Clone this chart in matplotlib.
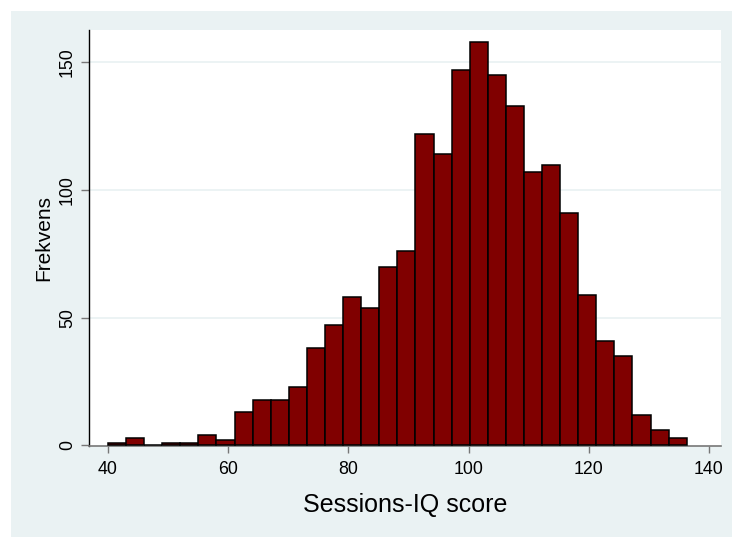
import matplotlib.pyplot as plt
from matplotlib.patches import Rectangle
import numpy as np

plt.rcParams['font.family'] = ['Liberation Sans', 'DejaVu Sans']

# Histogram: 32 bins between min and max score
score_min = 40.0
score_max = 136.3
counts = [1, 3, 0, 1, 1, 4, 2, 13, 18, 18, 23, 38, 47, 58, 54, 70,
          76, 122, 114, 147, 158, 145, 133, 107, 110, 91, 59, 41, 35, 12, 6, 3]
x_ticks = [40, 60, 80, 100, 120, 140]
y_ticks = [0, 50, 100, 150]

edges = np.linspace(score_min, score_max, len(counts) + 1)
width = edges[1] - edges[0]

fig = plt.figure(figsize=(7.32, 5.37), dpi=100)
fig.patch.set_facecolor('white')
# Stata-like graph region
fig.patches.append(Rectangle((11 / 732, 0), 1 - 11 / 732, 1 - 11 / 537,
                             transform=fig.transFigure, facecolor='#eaf2f3',
                             edgecolor='none', zorder=-10))

ax = fig.add_axes([89 / 732, 1 - 446 / 537, (721 - 89) / 732, (446 - 30) / 537])
ax.set_facecolor('white')

ax.bar(edges[:-1], counts, width=width, align='edge', color='#800000',
       edgecolor='black', linewidth=1.1, zorder=3)

ax.set_xlim(36.85, 142.0)
ax.set_ylim(-0.2, 162.7)
ax.set_xticks(x_ticks)
ax.set_yticks(y_ticks)
ax.set_yticklabels([str(v) for v in y_ticks], rotation=90, va='center')

for v in y_ticks[1:]:
    ax.axhline(v, color='#eaf2f3', linewidth=1.3, zorder=1)

ax.spines['top'].set_visible(False)
ax.spines['right'].set_visible(False)
ax.spines['left'].set_color('black')
ax.spines['bottom'].set_color('#777777')
ax.spines['left'].set_linewidth(1.0)
ax.spines['bottom'].set_linewidth(1.2)

ax.tick_params(axis='x', length=5, width=1, color='#777777', pad=6, labelsize=12.8)
ax.tick_params(axis='y', length=5.5, width=1, color='#777777', pad=4, labelsize=12.8)

ax.set_xlabel("Sessions-IQ score", fontsize=18)
ax.set_ylabel("Frekvens", fontsize=15)
ax.xaxis.set_label_coords(0.5, -0.142)
ax.yaxis.set_label_coords(-0.071, 0.5)
ax.xaxis.label.set_va('center')
ax.yaxis.label.set_va('center')

plt.savefig("out.png", dpi=100)
